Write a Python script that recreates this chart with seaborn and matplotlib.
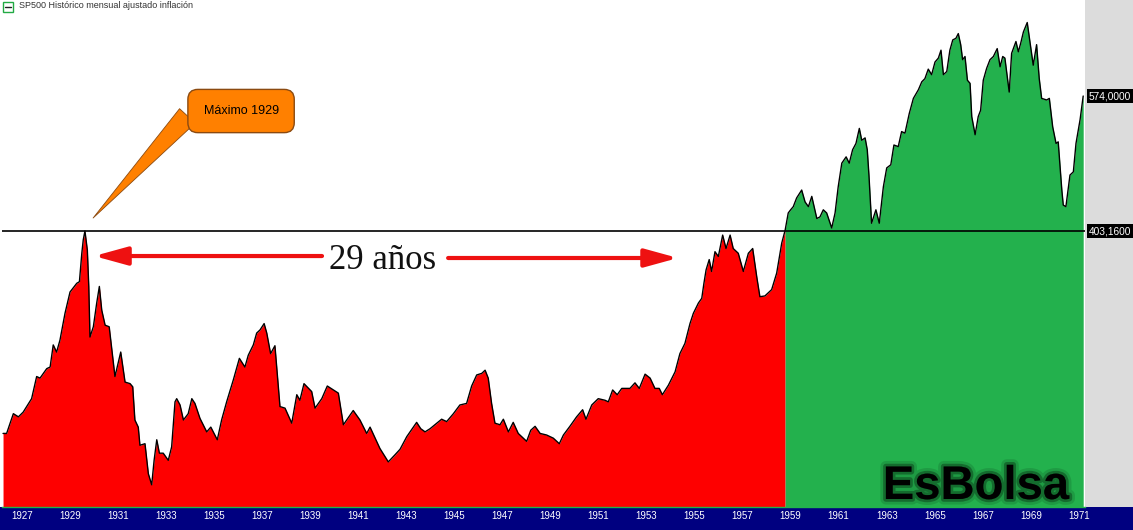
# SP500 real (inflation-adjusted) monthly chart 1926-1971
import pandas as pd
import matplotlib
matplotlib.use('Agg')
import matplotlib.pyplot as plt
import matplotlib.patheffects as pe
from matplotlib.patches import Rectangle
import seaborn as sns

# values (decimal year, index level)
years = [
    1926.21, 1926.36, 1926.64, 1926.85, 1927.05, 1927.40, 1927.61, 1927.75, 1928.03, 1928.17,
    1928.30, 1928.44, 1928.58, 1928.79, 1929.00, 1929.28, 1929.39, 1929.49, 1929.55, 1929.62,
    1929.72, 1929.78, 1929.83, 1929.97, 1930.11, 1930.22, 1930.32, 1930.46, 1930.63, 1930.87,
    1931.11, 1931.29, 1931.50, 1931.61, 1931.70, 1931.84, 1931.91, 1932.12, 1932.26, 1932.40,
    1932.50, 1932.61, 1932.72, 1932.88, 1933.09, 1933.23, 1933.37, 1933.44, 1933.58, 1933.72,
    1933.92, 1934.07, 1934.20, 1934.41, 1934.69, 1934.86, 1935.13, 1935.31, 1935.52, 1935.80,
    1936.05, 1936.28, 1936.42, 1936.63, 1936.77, 1936.91, 1937.08, 1937.19, 1937.35, 1937.53,
    1937.74, 1937.95, 1938.23, 1938.44, 1938.57, 1938.74, 1939.06, 1939.20, 1939.48, 1939.71,
    1940.17, 1940.38, 1940.79, 1941.07, 1941.35, 1941.49, 1941.90, 1942.25, 1942.53, 1942.74,
    1943.02, 1943.43, 1943.60, 1943.78, 1943.99, 1944.19, 1944.47, 1944.68, 1944.96, 1945.23,
    1945.51, 1945.72, 1945.93, 1946.14, 1946.28, 1946.41, 1946.55, 1946.69, 1946.90, 1947.04,
    1947.25, 1947.45, 1947.66, 1948.01, 1948.18, 1948.36, 1948.57, 1948.84, 1949.12, 1949.37,
    1949.54, 1949.81, 1950.09, 1950.34, 1950.48, 1950.72, 1950.99, 1951.27, 1951.41, 1951.59,
    1951.78, 1951.97, 1952.31, 1952.52, 1952.70, 1952.94, 1953.15, 1953.35, 1953.53, 1953.66,
    1953.91, 1954.19, 1954.39, 1954.60, 1954.81, 1954.95, 1955.16, 1955.30, 1955.39, 1955.48,
    1955.61, 1955.71, 1955.85, 1955.99, 1956.17, 1956.31, 1956.48, 1956.61, 1956.82, 1957.03,
    1957.24, 1957.42, 1957.59, 1957.72, 1957.93, 1958.21, 1958.42, 1958.63, 1958.77, 1958.90,
    1959.00, 1959.11, 1959.25, 1959.46, 1959.60, 1959.74, 1959.88, 1960.09, 1960.22, 1960.36,
    1960.50, 1960.71, 1960.85, 1960.98, 1961.13, 1961.31, 1961.44, 1961.58, 1961.72, 1961.86,
    1961.96, 1962.10, 1962.19, 1962.26, 1962.37, 1962.55, 1962.69, 1962.86, 1963.00, 1963.17,
    1963.30, 1963.48, 1963.62, 1963.76, 1963.94, 1964.11, 1964.32, 1964.46, 1964.59, 1964.73,
    1964.87, 1965.01, 1965.15, 1965.26, 1965.36, 1965.50, 1965.63, 1965.75, 1965.88, 1965.98,
    1966.08, 1966.16, 1966.26, 1966.36, 1966.47, 1966.54, 1966.68, 1966.81, 1966.91, 1967.02,
    1967.16, 1967.30, 1967.44, 1967.60, 1967.72, 1967.83, 1967.92, 1968.10, 1968.20, 1968.38,
    1968.48, 1968.58, 1968.69, 1968.85, 1968.97, 1969.10, 1969.24, 1969.35, 1969.45, 1969.66,
    1969.77, 1969.91, 1970.05, 1970.14, 1970.29, 1970.35, 1970.46, 1970.63, 1970.77, 1970.88,
    1971.05, 1971.18,
]
values = [
    147, 147, 172, 168, 174, 191, 219, 217, 229, 231,
    259, 250, 265, 299, 326, 337, 339, 375, 392, 403.16,
    379, 333, 269, 282, 312, 333, 303, 284, 282, 219,
    250, 212, 210, 206, 164, 155, 132, 134, 96, 82,
    113, 139, 122, 122, 113, 130, 187, 191, 183, 164,
    172, 191, 185, 166, 149, 155, 139, 164, 187, 215,
    242, 231, 246, 259, 274, 278, 286, 274, 248, 258,
    181, 179, 160, 196, 189, 210, 200, 179, 191, 207,
    198, 158, 176, 164, 147, 155, 128, 111, 120, 127,
    143, 161, 153, 149, 153, 158, 165, 162, 172, 183,
    185, 207, 221, 223, 227, 217, 185, 160, 158, 165,
    149, 161, 147, 137, 151, 156, 147, 145, 141, 134,
    145, 156, 168, 177, 165, 183, 191, 189, 187, 202,
    196, 204, 204, 211, 204, 222, 217, 204, 204, 196,
    208, 225, 248, 261, 286, 299, 312, 318, 337, 354,
    367, 352, 377, 371, 398, 381, 398, 381, 375, 352,
    375, 381, 345, 320, 321, 329, 350, 388, 404, 426,
    430, 434, 445, 455, 440, 434, 447, 419, 421, 430,
    426, 407, 426, 459, 489, 497, 489, 506, 514, 533,
    518, 521, 506, 474, 413, 430, 413, 459, 483, 487,
    512, 510, 529, 527, 552, 571, 582, 592, 596, 608,
    601, 617, 622, 632, 601, 605, 632, 645, 647, 653,
    639, 620, 624, 594, 590, 548, 525, 548, 556, 594,
    609, 620, 624, 634, 611, 624, 622, 579, 628, 643,
    630, 641, 655, 667, 641, 613, 639, 596, 571, 569,
    571, 535, 514, 516, 455, 436, 434, 474, 478, 514,
    544, 574,
]
split_year = 1958.77          # first close back above the 1929 high
max_1929 = 403.16
last_value = 574.0
tick_years = list(range(1927, 1972, 2))

RED = '#FE0000'
GREEN = '#23B14D'
NAVY = '#000080'

sns.set_style('white')
plt.rcParams['font.family'] = ['Liberation Sans', 'DejaVu Sans']

W, H = 1133, 530
fig = plt.figure(figsize=(W / 100, H / 100), dpi=100, facecolor='white')

# navy date bar and grey price scale panel (behind the axes)
fig.patches.append(Rectangle((0, 0), 1, 23 / H, transform=fig.transFigure,
                             facecolor=NAVY, edgecolor='none', zorder=-2))
fig.patches.append(Rectangle((1085 / W, 23 / H), 48 / W, 507 / H, transform=fig.transFigure,
                             facecolor='#DCDCDC', edgecolor='none', zorder=-2))

ax = fig.add_axes([2 / W, 23 / H, 1083 / W, 507 / H])
ax.patch.set_alpha(0)
ymin, ymax = 53.9, 695.5
ax.set_xlim(1926.167, 1971.255)
ax.set_ylim(ymin, ymax)

df = pd.DataFrame({'year': years, 'value': values})
red = df[df['year'] <= split_year]
green = df[df['year'] >= split_year]
ax.fill_between(red['year'], red['value'], ymin, color=RED, lw=0)
ax.fill_between(green['year'], green['value'], ymin, color=GREEN, lw=0)
sns.lineplot(data=df, x='year', y='value', color='black', lw=1, ax=ax)

ax.axhline(max_1929, color='black', lw=1.2)

ax.set_xlabel('')
ax.set_ylabel('')
ax.set_yticks([])
ax.set_xticks(tick_years)
ax.set_xticklabels([str(y) for y in tick_years], color='white', fontsize=7)
ax.tick_params(axis='x', length=0, pad=3)
for s in ['top', 'left', 'right']:
    ax.spines[s].set_visible(False)
ax.spines['bottom'].set_color(GREEN)
ax.spines['bottom'].set_linewidth(1)

# price scale labels
for v in [last_value, max_1929]:
    ax.text(1.0035, v, f'{v:.4f}'.replace('.', ','), transform=ax.get_yaxis_transform(),
            ha='left', va='center', fontsize=7.3, color='white', clip_on=False,
            bbox=dict(boxstyle='square,pad=0.15', fc='black', ec='none'))

# callout for the 1929 high
ax.annotate('Máximo 1929', xy=(1929.96, 419.6), xytext=(1936.12, 555),
            ha='center', va='center', fontsize=9, color='black',
            bbox=dict(boxstyle='round,pad=1.25,rounding_size=0.8', fc='#FF8000', ec='#8B4A10', lw=1),
            arrowprops=dict(arrowstyle='wedge,tail_width=1.7', fc='#FF8000', ec='#8B4A10',
                            lw=0.6, shrinkA=0, shrinkB=0, relpos=(0, 1.55)))

# 29 years span
ax.text(1942.03, 366.0, '29 años', ha='center', va='center', fontsize=25,
        family='Liberation Serif', color='#111111')
arrow = dict(arrowstyle='-|>,head_length=2.0,head_width=0.55', color='#EE1111',
             lw=3, shrinkA=0, shrinkB=0)
ax.annotate('', xy=(1930.0, 371.5), xytext=(1939.49, 371.5), arrowprops=arrow)
ax.annotate('', xy=(1954.31, 369.0), xytext=(1944.74, 369.0), arrowprops=arrow)

# header
fig.patches.append(Rectangle((3 / W, 1 - 12 / H), 10 / W, 10 / H, transform=fig.transFigure,
                             facecolor='none', edgecolor='#22AA44', lw=1))
fig.lines.append(plt.Line2D([5 / W, 11 / W], [1 - 7 / H, 1 - 7 / H], transform=fig.transFigure,
                            color='#222222', lw=1))
fig.text(19 / W, 1 - 6 / H, 'SP500 Histórico mensual ajustado inflación',
         fontsize=6.5, va='center', ha='left', color='#333333')

# watermark
fig.text(976 / W, 1 - 487 / H, 'EsBolsa', ha='center', va='center', fontsize=34,
         fontweight='bold', color='black',
         path_effects=[pe.Stroke(linewidth=8, foreground='black', alpha=0.12),
                       pe.Stroke(linewidth=4, foreground='black', alpha=0.3),
                       pe.Normal()])

plt.savefig('out.png', dpi=100)
